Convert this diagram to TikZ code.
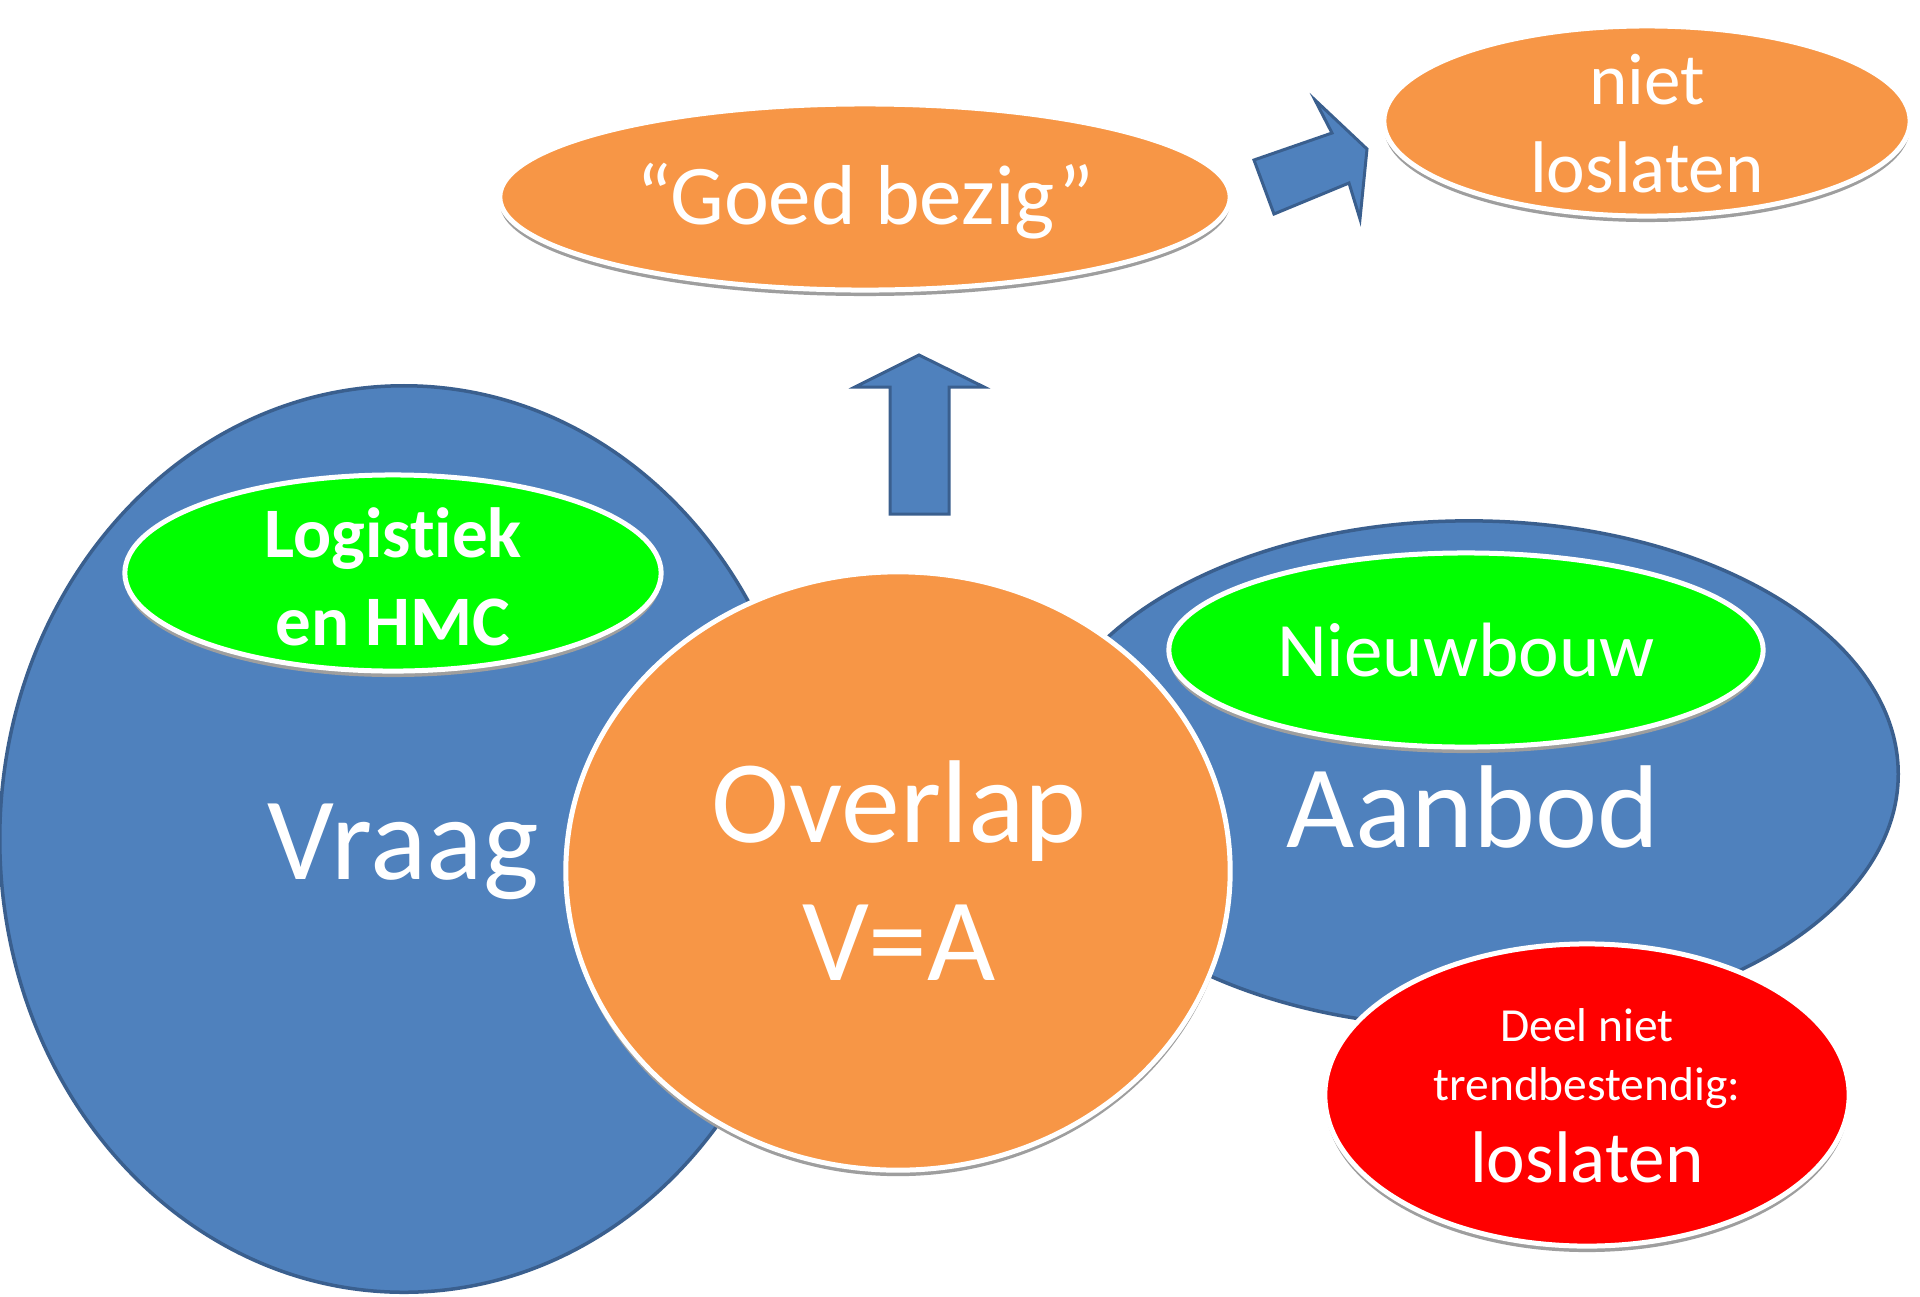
\documentclass[tikz,border=0pt]{standalone}
\usepackage{fontspec}
\setmainfont{Carlito}[Ligatures=NoCommon]
\usetikzlibrary{shapes.geometric,shadows}
\definecolor{blueF}{HTML}{4F81BD}
\definecolor{blueD}{HTML}{3A5F8E}
\definecolor{orangeF}{HTML}{F79646}
\definecolor{greenF}{HTML}{00FF00}
\definecolor{redF}{HTML}{FF0000}
\newcommand{\szBig}{\fontsize{33.5pt}{39pt}\selectfont}
\newcommand{\szMid}{\fontsize{24.2pt}{29pt}\selectfont}
\newcommand{\szNb}{\fontsize{21.9pt}{27pt}\selectfont}
\newcommand{\szSm}{\fontsize{20.8pt}{25pt}\selectfont}
\newcommand{\szLg}{\fontsize{20.2pt}{25pt}\selectfont}
\newcommand{\szTiny}{\fontsize{13.5pt}{16pt}\selectfont}
\tikzset{
  bluebubble/.style={ellipse, fill=blueF, draw=blueD, line width=0.035cm, inner sep=0pt, outer sep=0pt},
  colbubble/.style={ellipse, fill=#1, draw=white, line width=0.05cm, inner sep=0pt, outer sep=0pt,
     drop shadow={shadow xshift=0pt, shadow yshift=-1.7pt, fill=black!38, opacity=1}},
  blockarrow/.style={fill=blueF, draw=blueD, line width=0.03cm, line join=miter},
  txt/.style={text=white, inner sep=0pt, anchor=base}
}
\begin{document}
\begin{tikzpicture}[x=0.01cm, y=-0.01cm]
\useasboundingbox (0,0) rectangle (1920,1296);
\fill[white] (0,0) rectangle (1920,1296);

% blue ellipses
\node[bluebubble, minimum width=8.08cm, minimum height=9.06cm] (vraag) at (404,839) {};
\node[bluebubble, minimum width=8.58cm, minimum height=5.06cm] (aanbod) at (1469,774) {};

% arrows
\coordinate (upTip) at (919,355);
\draw[blockarrow] (890,514) -- (890,387) -- (855,387) -- (upTip) -- (984,387) -- (949,387) -- (949,514) -- cycle;
\coordinate (diagTip) at (1367,149);
\draw[blockarrow] (1254,160) -- (1332,133) -- (1315,100) -- (diagTip) -- (1360,219) -- (1349,183) -- (1274,214) -- cycle;

% top bubbles
\node[colbubble=orangeF, minimum width=7.30cm, minimum height=1.86cm] (goed) at (865,197) {};
\node[colbubble=orangeF, minimum width=5.26cm, minimum height=1.90cm] (niet) at (1647,121) {};

% green bubbles
\node[colbubble=greenF, minimum width=5.36cm, minimum height=1.96cm] (logi) at (393,573) {};
\node[colbubble=greenF, minimum width=5.94cm, minimum height=1.94cm] (nieuw) at (1466,650) {};

% red bubble
\node[colbubble=redF, minimum width=5.24cm, minimum height=3.02cm] (red) at (1587,1095) {};

% overlap
\node[colbubble=orangeF, minimum width=6.64cm, minimum height=5.98cm] (overlap) at (898,871) {};

% texts
\node[txt] (tVraag) at (403,879) {\szBig Vraag};
\node[txt] (tAanbod) at (1473,847) {\szBig Aanbod};
\node[txt] (tOver1) at (899,842) {\szBig Overlap};
\node[txt] (tOver2) at (899,980) {\szBig V=A};
\node[txt] (tNieuw) at (1466,676) {\szNb Nieuwbouw};
\node[txt] (tLog1) at (393,557) {\szLg\bfseries Logistiek};
\node[txt] (tLog2) at (393,645) {\szLg\bfseries en HMC};
\node[txt] (tGoed) at (865,224) {\szMid “Goed bezig”};
\node[txt] (tNiet1) at (1647,104) {\szSm niet};
\node[txt] (tNiet2) at (1647,192) {\szSm loslaten};
\node[txt] (tRed1) at (1587,1041) {\szTiny Deel niet};
\node[txt] (tRed2) at (1587,1100) {\szTiny trendbestendig:};
\node[txt] (tRed3) at (1587,1182) {\szSm loslaten};
\end{tikzpicture}
\end{document}
